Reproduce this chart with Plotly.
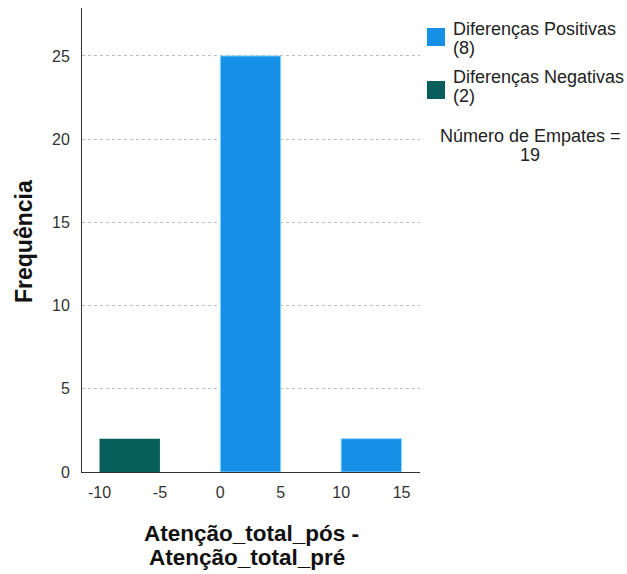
import plotly.graph_objects as go

# Histogram of the paired differences (bin left edge, bin width, frequency)
neg_bins = [-10]
neg_counts = [2]
pos_bins = [0, 10]
pos_counts = [25, 2]
bin_width = 5

legend_pos = ["Diferenças Positivas", "(8)"]
legend_neg = ["Diferenças Negativas", "(2)"]
ties_lines = ["Número de Empates =", "19"]
x_title_lines = ["Atenção_total_pós -", "Atenção_total_pré"]
y_title = "Frequência"

x_ticks = [-10, -5, 0, 5, 10, 15]
y_ticks = [0, 5, 10, 15, 20, 25]

BLUE = "#1590e6"
TEAL = "#075e5b"
FONT = "Liberation Sans, Arial, sans-serif"

W, H = 627, 574
L, R, T, B = 82, 207, 8, 102
PW, PH = W - L - R, H - T - B


def px(x):
    return (x - L) / PW


def py(y):
    return (H - B - y) / PH


fig = go.Figure()
fig.add_trace(go.Bar(
    x=[b + bin_width / 2 for b in pos_bins], y=pos_counts, width=bin_width,
    marker=dict(color=BLUE, line=dict(color="#8fd6ff", width=1)),
    showlegend=False,
))
fig.add_trace(go.Bar(
    x=[b + bin_width / 2 for b in neg_bins], y=neg_counts, width=bin_width,
    marker=dict(color=TEAL, line=dict(color=TEAL, width=0)),
    showlegend=False,
))

annotations = []
shapes = []

# legend: colour swatch plus two tight text lines per entry
for (line1, line2), color, sq_top, y1, y2 in [
    (legend_pos, BLUE, 28, 29, 48),
    (legend_neg, TEAL, 81, 77, 96),
]:
    shapes.append(dict(type="rect", xref="paper", yref="paper",
                       x0=px(427), x1=px(445), y0=py(sq_top + 18), y1=py(sq_top),
                       fillcolor=color, line=dict(width=0)))
    for txt, yy in [(line1, y1), (line2, y2)]:
        annotations.append(dict(text=txt, xref="paper", yref="paper", x=px(451), y=py(yy),
                                xanchor="left", yanchor="middle", showarrow=False,
                                font=dict(size=18, family=FONT, color="#222222")))

for txt, yy in zip(ties_lines, [136, 155]):
    annotations.append(dict(text=txt, xref="paper", yref="paper", x=px(530), y=py(yy),
                            xanchor="center", yanchor="middle", showarrow=False,
                            font=dict(size=18, family=FONT, color="#222222")))

for txt, xx, yy in zip(x_title_lines, [251, 247], [533.5, 557.5]):
    annotations.append(dict(text=txt, xref="paper", yref="paper", x=px(xx), y=py(yy),
                            xanchor="center", yanchor="middle", showarrow=False,
                            font=dict(size=22.5, family=FONT, color="#111111", weight="bold")))

annotations.append(dict(text=y_title, xref="paper", yref="paper", x=px(24), y=py(242),
                        xanchor="center", yanchor="middle", textangle=-90, showarrow=False,
                        font=dict(size=23, family=FONT, color="#111111", weight="bold")))

fig.update_layout(
    width=W, height=H,
    margin=dict(l=L, r=R, t=T, b=B),
    paper_bgcolor="white", plot_bgcolor="white",
    font=dict(family=FONT, color="#222222", size=16),
    barmode="overlay",
    showlegend=False,
    xaxis=dict(
        range=[-11.45, 16.53], tickvals=x_ticks, ticktext=[str(v) for v in x_ticks],
        showgrid=False, zeroline=False, showline=True, linecolor="#333333", linewidth=1,
        ticks="", ticklabelstandoff=6, tickfont=dict(size=16, family=FONT, color="#333333"),
        fixedrange=True,
    ),
    yaxis=dict(
        range=[0, 27.88], tickvals=y_ticks, ticktext=[str(v) for v in y_ticks],
        showgrid=True, gridcolor="#bdbdbd", griddash="3px,3px", gridwidth=1,
        zeroline=False, showline=True, linecolor="#333333", linewidth=1,
        ticks="", ticklabelstandoff=8, tickfont=dict(size=16, family=FONT, color="#333333"),
        fixedrange=True,
    ),
    annotations=annotations,
    shapes=shapes,
)

fig.write_html("out.html")
